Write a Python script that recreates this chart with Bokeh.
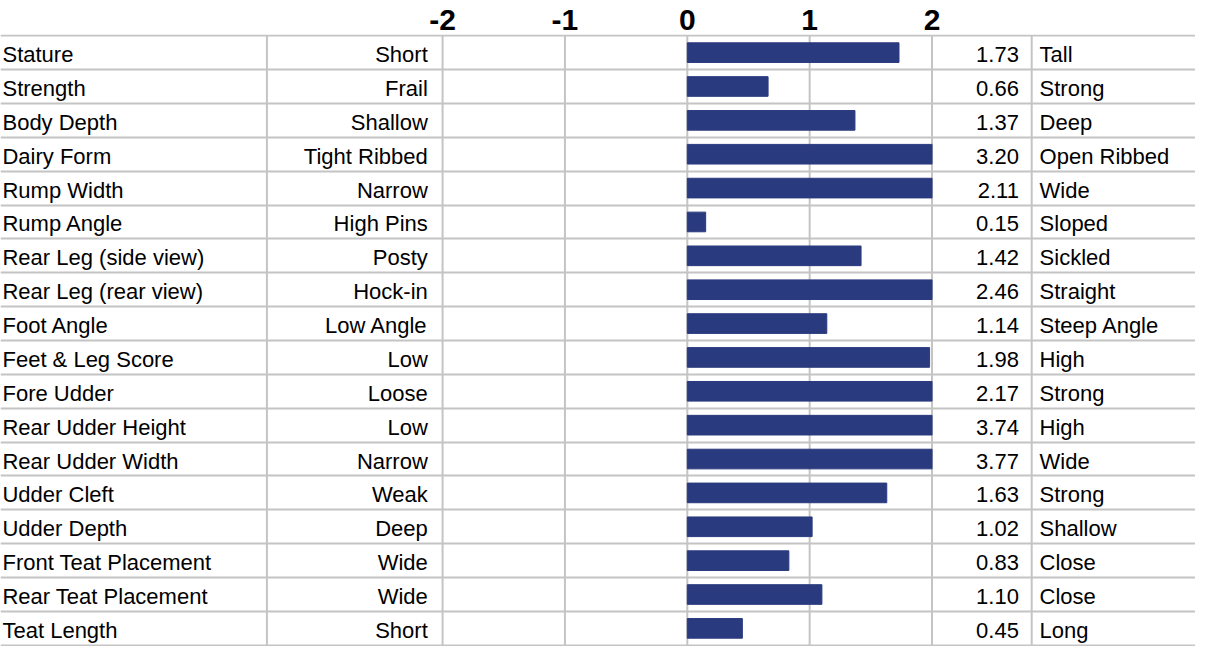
from bokeh.plotting import figure
from bokeh.models import Range1d, FixedTicker, ColumnDataSource, LinearAxis
from bokeh.core.properties import value
from bokeh.embed import file_html
from bokeh.resources import INLINE

traits = ["Stature", "Strength", "Body Depth", "Dairy Form", "Rump Width", "Rump Angle",
          "Rear Leg (side view)", "Rear Leg (rear view)", "Foot Angle", "Feet & Leg Score",
          "Fore Udder", "Rear Udder Height", "Rear Udder Width", "Udder Cleft", "Udder Depth",
          "Front Teat Placement", "Rear Teat Placement", "Teat Length"]
low_labels = ["Short", "Frail", "Shallow", "Tight Ribbed", "Narrow", "High Pins", "Posty",
              "Hock-in", "Low Angle", "Low", "Loose", "Low", "Narrow", "Weak", "Deep",
              "Wide", "Wide", "Short"]
high_labels = ["Tall", "Strong", "Deep", "Open Ribbed", "Wide", "Sloped", "Sickled",
               "Straight", "Steep Angle", "High", "Strong", "High", "Wide", "Strong",
               "Shallow", "Close", "Close", "Long"]
values = [1.73, 0.66, 1.37, 3.20, 2.11, 0.15, 1.42, 2.46, 1.14, 1.98, 2.17, 3.74, 3.77,
          1.63, 1.02, 0.83, 1.10, 0.45]
axis_ticks = [-2, -1, 0, 1, 2]
axis_tick_labels = ["-2", "-1", "0", "1", "2"]

AXIS_MIN, AXIS_MAX = -2, 2
rows = list(range(len(traits)))
src = ColumnDataSource(dict(
    y=rows,
    trait=traits,
    low=low_labels,
    high=high_labels,
    val=values,
    bar=[max(AXIS_MIN, min(AXIS_MAX, v)) for v in values],
    vtxt=["%.2f" % v for v in values],
))

# layout: 124 px per unit in the reference, zero at 696 px of 1211
PX0, PXU, W_REF = 696.0, 124.0, 1211.0
def ux(px):
    return (px - PX0) / PXU

GRID = "#c4c4c4"
FONT = "Liberation Sans"
FS = "22px"
BAR = "#2a3a7e"

n = len(traits)
pad = 0.035
p = figure(width=1195, height=646, output_backend="svg", toolbar_location=None,
           x_range=Range1d(ux(0), ux(W_REF)),
           y_range=Range1d(n - 0.5 + pad, -0.5 - pad),
           x_axis_location=None, y_axis_location=None,
           min_border_left=0, min_border_right=0, min_border_top=34, min_border_bottom=0)
p.outline_line_color = None
p.background_fill_color = "white"
p.border_fill_color = "white"

ax = LinearAxis(ticker=FixedTicker(ticks=axis_ticks),
                major_label_overrides={t: s for t, s in zip(axis_ticks, axis_tick_labels)})
ax.axis_line_color = None
ax.major_tick_line_color = None
ax.minor_tick_line_color = None
ax.major_tick_out = 0
ax.major_tick_in = 0
ax.major_label_standoff = 5
ax.major_label_text_font = FONT
ax.major_label_text_font_style = "bold"
ax.major_label_text_font_size = "30px"
ax.major_label_text_color = "black"
p.add_layout(ax, "above")

p.xgrid.grid_line_color = None
p.ygrid.ticker = FixedTicker(ticks=[i - 0.5 for i in range(n + 1)])
p.ygrid.grid_line_color = GRID
p.ygrid.grid_line_width = 2

# vertical lines
vx = axis_ticks + [ux(270), ux(1045)]
p.segment(x0=vx, x1=vx, y0=-0.5, y1=n - 0.5, line_color=GRID, line_width=2)

p.hbar(y="y", left=0, right="bar", height=0.58, source=src,
       fill_color=BAR, line_color=BAR, line_width=1)

common = dict(source=src, y="y", text_font=value(FONT), text_font_size=FS,
              text_baseline="middle", text_color="black", y_offset=2)
p.text(x=ux(2), text="trait", text_align="left", **common)
p.text(x=ux(433), text="low", text_align="right", **common)
p.text(x=ux(1032), text="vtxt", text_align="right", **common)
p.text(x=ux(1053), text="high", text_align="left", **common)

open("out.html", "w").write(file_html(p, INLINE))
